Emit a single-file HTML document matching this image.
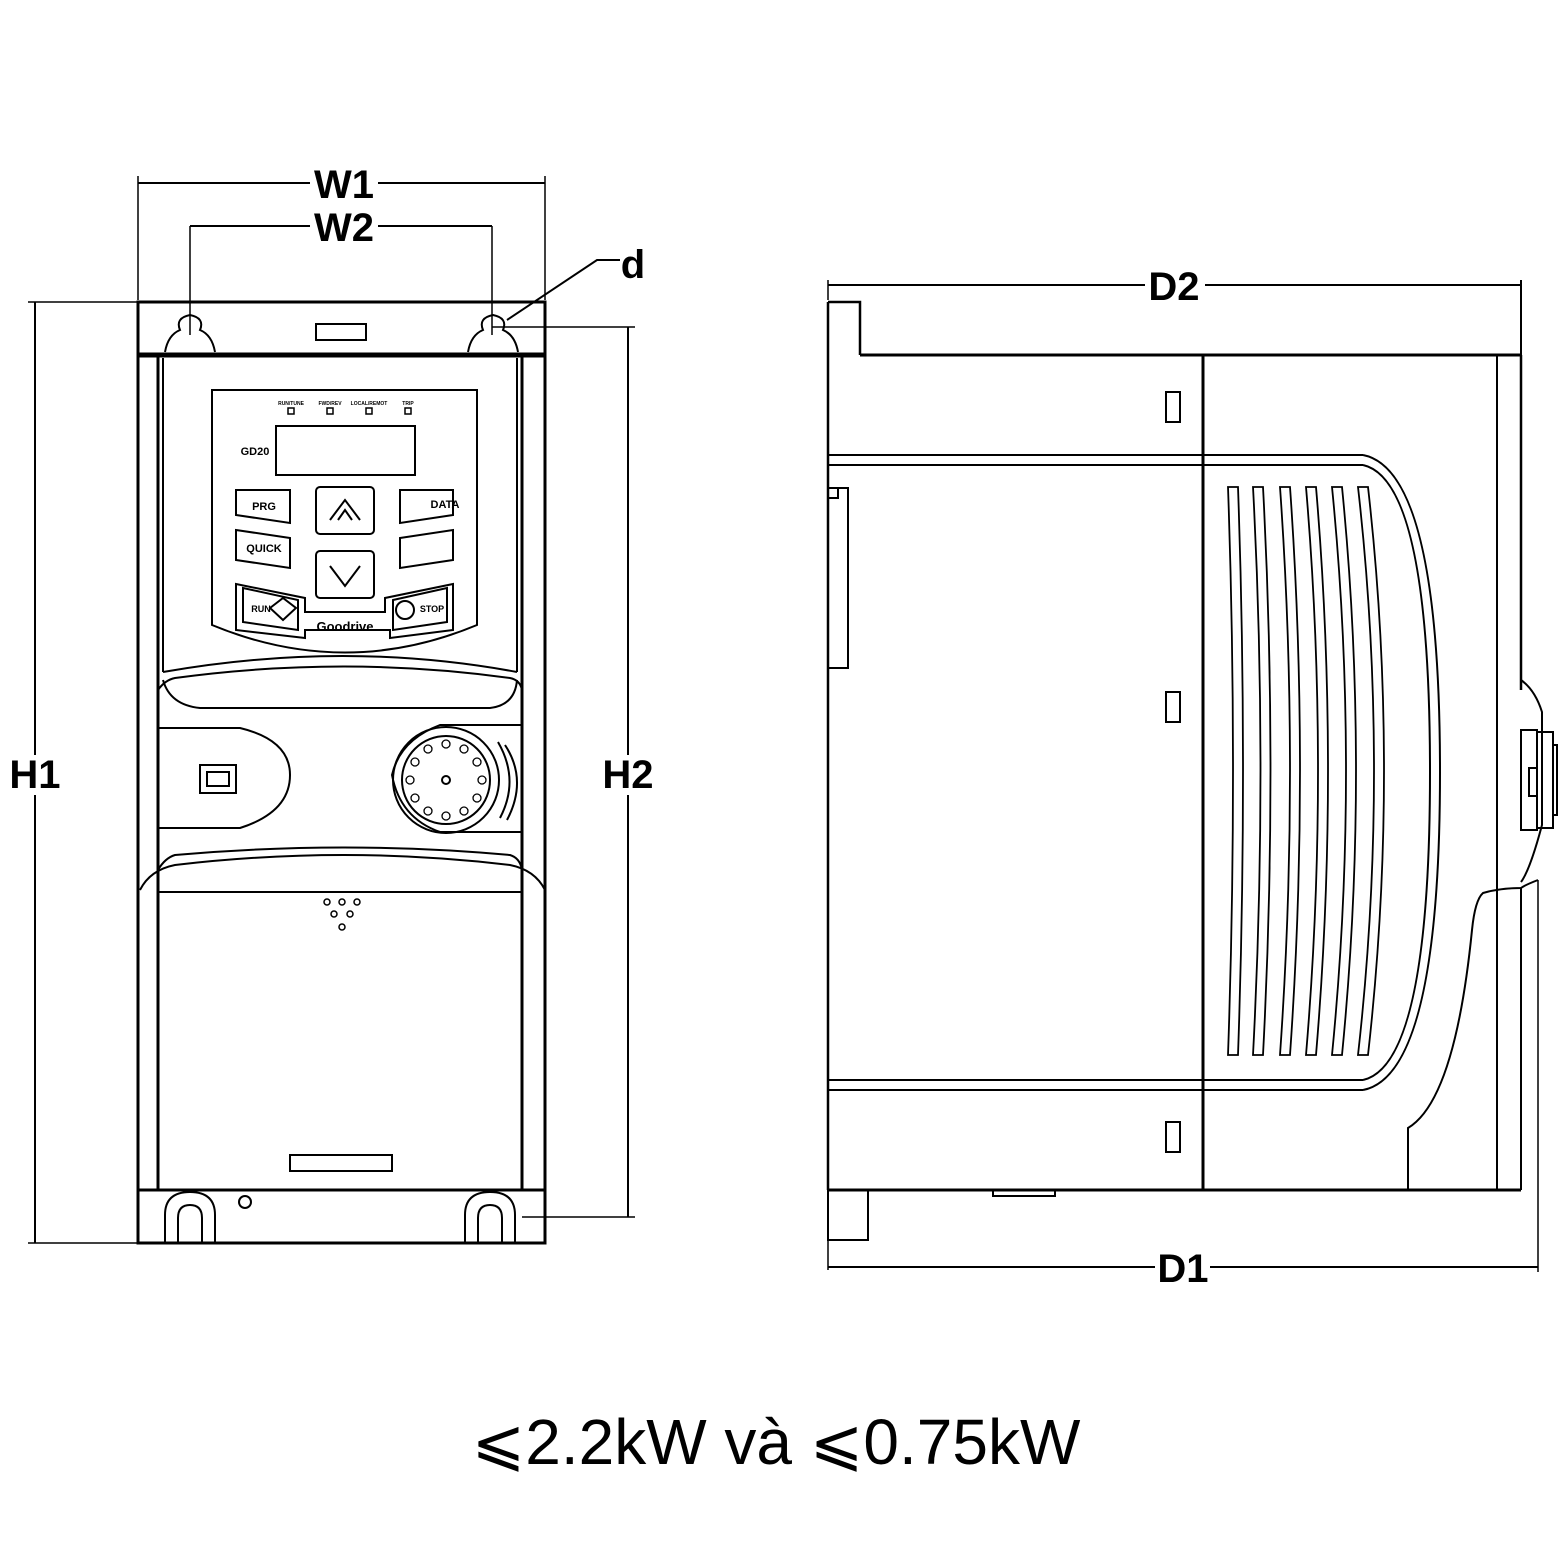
<!DOCTYPE html>
<html><head><meta charset="utf-8"><style>
html,body{margin:0;padding:0;background:#fff}
svg{display:block}
text{font-family:"Liberation Sans",sans-serif;font-weight:bold}
</style></head><body>
<svg width="1563" height="1563" viewBox="0 0 1563 1563" xmlns="http://www.w3.org/2000/svg">
<g fill="none" stroke="#000" stroke-width="2">
<line x1="138" y1="183" x2="310" y2="183"/><line x1="378" y1="183" x2="545" y2="183"/>
<line x1="138" y1="176" x2="138" y2="300" stroke-width="1.5"/><line x1="545" y1="176" x2="545" y2="300" stroke-width="1.5"/>
<line x1="190" y1="226" x2="310" y2="226"/><line x1="378" y1="226" x2="492" y2="226"/>
<line x1="190" y1="226" x2="190" y2="335" stroke-width="1.5"/><line x1="492" y1="226" x2="492" y2="335" stroke-width="1.5"/>
<line x1="28" y1="302" x2="138" y2="302" stroke-width="1.5"/><line x1="28" y1="1243" x2="138" y2="1243" stroke-width="1.5"/>
<line x1="35" y1="302" x2="35" y2="755"/><line x1="35" y1="795" x2="35" y2="1243"/>
<line x1="492" y1="327" x2="635" y2="327" stroke-width="1.5"/><line x1="522" y1="1217" x2="635" y2="1217" stroke-width="1.5"/>
<line x1="628" y1="327" x2="628" y2="755"/><line x1="628" y1="795" x2="628" y2="1217"/>
<polyline points="507,320 597,260 620,260" stroke-width="2"/>
<rect x="138" y="302" width="407" height="941" stroke-width="3"/>
<line x1="138" y1="355" x2="545" y2="355" stroke-width="5"/>
<rect x="316" y="324" width="50" height="16"/>
<path d="M165,352 Q168,335 180,330 Q175,318 190,315 Q205,318 200,330 Q212,335 215,352"/>
<path d="M468,352 Q471,335 483,330 Q478,318 493,315 Q508,318 503,330 Q515,335 518,352"/>
<line x1="158" y1="355" x2="158" y2="1190" stroke-width="3"/>
<line x1="522" y1="355" x2="522" y2="1190" stroke-width="3"/>
<line x1="163" y1="358" x2="163" y2="672"/><line x1="517" y1="358" x2="517" y2="672"/>
<path d="M212,390 H477 V625 Q345,680 212,625 Z"/>
<rect x="276" y="426" width="139" height="49"/>
<rect x="316" y="487" width="58" height="47" rx="4"/><rect x="316" y="551" width="58" height="47" rx="4"/>
<path d="M330,520 L345,500 L360,520 M352,520 L345,510 L338,520"/>
<path d="M330,566 L345,586 L360,566"/>
<path d="M236,490 H290 V523 L236,515 Z"/><path d="M236,530 L290,538 V568 L236,560 Z"/>
<path d="M400,490 H453 V515 L400,523 Z"/><path d="M400,538 L453,530 V560 L400,568 Z"/>
<path d="M236,584 L305,598 V612 H385 V598 L453,584 V630 L390,638 V630 H305 V638 L236,630 Z"/>
<path d="M243,588 L298,600 V630 L243,622 Z"/><path d="M393,600 L447,588 V622 L393,630 Z"/>
<path d="M270,608 L283,598 L296,608 L283,620 Z"/><circle cx="405" cy="610" r="9"/>
<g stroke-width="1.5"><rect x="288" y="408" width="6" height="6"/><rect x="327" y="408" width="6" height="6"/><rect x="366" y="408" width="6" height="6"/><rect x="405" y="408" width="6" height="6"/></g>
<path d="M163,672 Q345,640 517,672"/><path d="M158,690 Q165,680 175,678 Q345,655 510,678 Q520,680 522,690"/>
<path d="M163,680 Q170,705 200,708 H490 Q515,705 517,680"/>
<path d="M158,728 H240 Q290,740 290,775 Q290,812 240,828 H158 Z"/>
<rect x="200" y="765" width="36" height="28"/><rect x="207" y="772" width="22" height="14"/>
<path d="M522,725 H440 Q400,740 392,775 Q400,818 440,832 H522"/>
<circle cx="446" cy="780" r="53"/><circle cx="446" cy="780" r="44"/><circle cx="446" cy="780" r="4"/>
<g stroke-width="1.3">
<circle cx="446" cy="744" r="4"/><circle cx="464" cy="749" r="4"/><circle cx="477" cy="762" r="4"/><circle cx="482" cy="780" r="4"/><circle cx="477" cy="798" r="4"/><circle cx="464" cy="811" r="4"/><circle cx="446" cy="816" r="4"/><circle cx="428" cy="811" r="4"/><circle cx="415" cy="798" r="4"/><circle cx="410" cy="780" r="4"/><circle cx="415" cy="762" r="4"/><circle cx="428" cy="749" r="4"/>
</g>
<path d="M498,742 Q520,780 500,818"/><path d="M505,745 Q528,780 507,820"/>
<path d="M158,870 Q165,858 175,855 Q345,840 510,855 Q520,858 522,870"/>
<path d="M140,890 Q150,870 175,865 Q345,845 510,865 Q535,870 545,890"/>
<line x1="158" y1="892" x2="522" y2="892"/>
<rect x="290" y="1155" width="102" height="16"/>
<line x1="138" y1="1190" x2="545" y2="1190" stroke-width="3"/>
<circle cx="245" cy="1202" r="6"/>
<path d="M165,1243 V1215 Q165,1192 190,1192 Q215,1192 215,1215 V1243"/>
<path d="M178,1243 V1218 Q178,1205 190,1205 Q202,1205 202,1218 V1243"/>
<path d="M465,1243 V1215 Q465,1192 490,1192 Q515,1192 515,1215 V1243"/>
<path d="M478,1243 V1218 Q478,1205 490,1205 Q502,1205 502,1218 V1243"/>
<g stroke-width="1.5"><circle cx="327" cy="902" r="3"/><circle cx="342" cy="902" r="3"/><circle cx="357" cy="902" r="3"/><circle cx="334" cy="914" r="3"/><circle cx="350" cy="914" r="3"/><circle cx="342" cy="927" r="3"/></g>
<line x1="828" y1="285" x2="1145" y2="285"/><line x1="1205" y1="285" x2="1521" y2="285"/>
<line x1="828" y1="280" x2="828" y2="300" stroke-width="1.5"/><line x1="1521" y1="280" x2="1521" y2="355"/>
<line x1="828" y1="1267" x2="1155" y2="1267"/><line x1="1210" y1="1267" x2="1538" y2="1267"/>
<line x1="828" y1="1190" x2="828" y2="1270" stroke-width="1.5"/><line x1="1538" y1="880" x2="1538" y2="1272" stroke-width="1.5"/>
<path d="M828,302 H860 V355" stroke-width="2.5"/>
<line x1="860" y1="355" x2="1521" y2="355" stroke-width="3"/>
<line x1="828" y1="302" x2="828" y2="1190" stroke-width="2.5"/>
<path d="M828,488 H848 V668 H828" />
<path d="M828,490 V498 H838 V488"/>
<line x1="1203" y1="355" x2="1203" y2="1190" stroke-width="3"/>
<line x1="1521" y1="355" x2="1521" y2="690" stroke-width="2.5"/>
<line x1="1497" y1="355" x2="1497" y2="1190"/>
<line x1="828" y1="455" x2="1363" y2="455"/><line x1="828" y1="465" x2="1363" y2="465"/>
<line x1="828" y1="1080" x2="1363" y2="1080"/><line x1="828" y1="1090" x2="1363" y2="1090"/>
<path d="M1363,455 Q1440,470 1440,772 Q1440,1075 1363,1090"/>
<path d="M1363,465 Q1430,480 1430,772 Q1430,1065 1363,1080"/>
<g stroke-width="1.8">
<path d="M1228,487 H1238 Q1248,770 1238,1055 H1228 Q1238,770 1228,487 Z"/>
<path d="M1253,487 H1263 Q1278,770 1263,1055 H1253 Q1268,770 1253,487 Z"/>
<path d="M1280,487 H1290 Q1310,770 1290,1055 H1280 Q1300,770 1280,487 Z"/>
<path d="M1306,487 H1316 Q1340,770 1316,1055 H1306 Q1330,770 1306,487 Z"/>
<path d="M1332,487 H1342 Q1370,770 1342,1055 H1332 Q1360,770 1332,487 Z"/>
<path d="M1358,487 H1368 Q1400,770 1368,1055 H1358 Q1390,770 1358,487 Z"/>
</g>
<rect x="1166" y="392" width="14" height="30"/><rect x="1166" y="692" width="14" height="30"/><rect x="1166" y="1122" width="14" height="30"/>
<path d="M1521,680 Q1535,690 1542,712 V825 Q1530,870 1521,882"/>
<rect x="1521" y="730" width="16" height="100"/>
<rect x="1537" y="732" width="16" height="96"/>
<path d="M1553,745 H1557 V815 H1553"/><rect x="1529" y="768" width="8" height="28"/>
<path d="M1538,880 Q1525,885 1521,888 Q1500,888 1483,893 Q1475,900 1472,930 Q1455,1100 1408,1128 V1190"/>
<path d="M1521,888 V1190"/>
<line x1="828" y1="1190" x2="1521" y2="1190" stroke-width="3"/>
<path d="M828,1190 V1240 H868 V1190"/>
<path d="M993,1190 V1196 H1055 V1190"/>
</g>
<g font-size="40" text-anchor="middle">
<text x="344" y="198">W1</text>
<text x="344" y="241">W2</text>
<text x="35" y="788">H1</text>
<text x="628" y="788">H2</text>
<text x="633" y="278">d</text>
<text x="1174" y="300">D2</text>
<text x="1183" y="1282">D1</text>
</g>
<g font-size="11" text-anchor="middle">
<text x="255" y="455">GD20</text>
<text x="445" y="508">DATA</text>
<text x="264" y="510">PRG</text>
<text x="264" y="552">QUICK</text>
<text x="261" y="612" font-size="9">RUN</text>
<text x="345" y="631" font-size="13">Goodrive</text>
<text x="432" y="612" font-size="9">STOP</text>
<text x="291" y="405" font-size="5">RUN/TUNE</text>
<text x="330" y="405" font-size="5">FWD/REV</text>
<text x="369" y="405" font-size="5">LOCAL/REMOT</text>
<text x="408" y="405" font-size="5">TRIP</text>
</g>
<text x="776" y="1464" font-size="64" text-anchor="middle" style="font-weight:normal">⩽2.2kW và ⩽0.75kW</text>
</svg>
</body></html>
